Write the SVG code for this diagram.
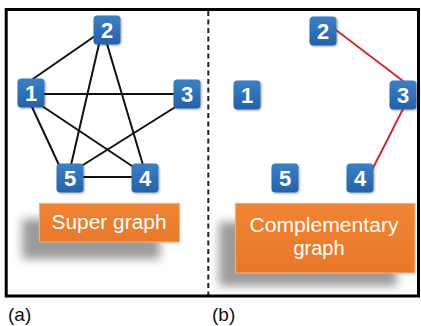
<svg xmlns="http://www.w3.org/2000/svg" width="421" height="326" viewBox="0 0 421 326">
  <defs>
    <linearGradient id="nodeFill" x1="0" y1="0" x2="0" y2="1">
      <stop offset="0" stop-color="#3a80c6"/>
      <stop offset="1" stop-color="#2462a8"/>
    </linearGradient>
    <linearGradient id="boxFill" x1="0" y1="0" x2="0" y2="1">
      <stop offset="0" stop-color="#f08434"/>
      <stop offset="1" stop-color="#e8782a"/>
    </linearGradient>
    <filter id="soft" x="-30%" y="-30%" width="160%" height="160%">
      <feGaussianBlur stdDeviation="5"/>
    </filter>
    <filter id="nodeShadow" x="-30%" y="-30%" width="160%" height="160%">
      <feGaussianBlur in="SourceAlpha" stdDeviation="1.2"/>
      <feOffset dx="0.5" dy="1" result="b"/>
      <feComponentTransfer><feFuncA type="linear" slope="0.35"/></feComponentTransfer>
      <feMerge><feMergeNode/><feMergeNode in="SourceGraphic"/></feMerge>
    </filter>
  </defs>
  <style>
    .node rect { fill: url(#nodeFill); filter: url(#nodeShadow); }
    .node text { fill: #ffffff; font-family: "Liberation Sans", Arial, sans-serif; font-weight: bold; font-size: 22px; text-anchor: middle; }
    .edge { stroke: #111111; stroke-width: 2; stroke-linecap: round; fill: none; }
    .edge-c { stroke: #d42a36; stroke-width: 2; stroke-linecap: round; fill: none; }
    .box { fill: url(#boxFill); stroke: #f6ad74; stroke-width: 1.2; }
    .shadow { fill: #7a7a7a; opacity: 0.75; filter: url(#soft); }
    .label { fill: #ffffff; font-family: "Liberation Sans", Arial, sans-serif; font-size: 20px; text-anchor: middle; }
    .caption { fill: #111111; font-family: "Liberation Sans", Arial, sans-serif; font-size: 19px; }
  </style>

  <rect x="0" y="0" width="421" height="326" fill="#ffffff"/>

  <!-- outer frame and divider -->
  <rect x="6.2" y="9.5" width="412.3" height="286.5" fill="none" stroke="#000000" stroke-width="3"/>
  <line x1="208.3" y1="11" x2="208.3" y2="295" stroke="#222222" stroke-width="2" stroke-dasharray="5 3.5"/>

  <!-- label box shadows -->
  <rect class="shadow" x="22" y="219" width="138" height="40"/>
  <rect class="shadow" x="219" y="222" width="178" height="64"/>

  <!-- connectors -->
  <g id="connectors">
    <!-- super graph -->
    <line class="edge" x1="30" y1="81" x2="95" y2="36"/>
    <line class="edge" x1="44" y1="94" x2="174" y2="94"/>
    <line class="edge" x1="32" y1="107" x2="59" y2="165"/>
    <line class="edge" x1="42" y1="106" x2="132" y2="166"/>
    <line class="edge" x1="99" y1="44" x2="71" y2="165"/>
    <line class="edge" x1="107" y1="44" x2="143" y2="165"/>
    <line class="edge" x1="177" y1="106" x2="83" y2="165"/>
    <line class="edge" x1="83" y1="177" x2="132" y2="177"/>
    <!-- complementary graph -->
    <line class="edge-c" x1="336" y1="30" x2="403" y2="81"/>
    <line class="edge-c" x1="403" y1="109" x2="372" y2="170"/>
  </g>

  <!-- super graph nodes -->
  <g id="a-node-1" class="node"><rect x="17.5" y="78.5" width="27" height="29" rx="4"/><text x="31" y="101">1</text></g>
  <g id="a-node-2" class="node"><rect x="93.5" y="15.5" width="27" height="29" rx="4"/><text x="107" y="38">2</text></g>
  <g id="a-node-3" class="node"><rect x="173.5" y="79.5" width="27" height="29" rx="4"/><text x="187" y="102">3</text></g>
  <g id="a-node-4" class="node"><rect x="131.5" y="163.5" width="27" height="29" rx="4"/><text x="145" y="186">4</text></g>
  <g id="a-node-5" class="node"><rect x="56.5" y="163.5" width="27" height="29" rx="4"/><text x="70" y="186">5</text></g>

  <!-- complementary graph nodes -->
  <g id="b-node-1" class="node"><rect x="233.5" y="80.5" width="27" height="29" rx="4"/><text x="247" y="103">1</text></g>
  <g id="b-node-2" class="node"><rect x="309.5" y="16.5" width="27" height="29" rx="4"/><text x="323" y="39">2</text></g>
  <g id="b-node-3" class="node"><rect x="389.5" y="80.5" width="27" height="29" rx="4"/><text x="403" y="103">3</text></g>
  <g id="b-node-4" class="node"><rect x="346.5" y="163.5" width="27" height="29" rx="4"/><text x="360" y="186">4</text></g>
  <g id="b-node-5" class="node"><rect x="271.5" y="163.5" width="27" height="29" rx="4"/><text x="285" y="186">5</text></g>

  <!-- titles -->
  <g id="super-graph-label">
    <rect class="box" x="39.5" y="203.5" width="140" height="38.5"/>
    <text class="label" x="109" y="229" textLength="115" lengthAdjust="spacingAndGlyphs">Super graph</text>
  </g>
  <g id="complementary-graph-label">
    <rect class="box" x="235.5" y="203.5" width="179.5" height="69.5"/>
    <text class="label" x="324" y="232" textLength="149" lengthAdjust="spacingAndGlyphs">Complementary</text>
    <text class="label" x="319" y="255">graph</text>
  </g>

  <!-- panel captions -->
  <text class="caption" x="8" y="321">(a)</text>
  <text class="caption" x="212" y="321">(b)</text>
</svg>
